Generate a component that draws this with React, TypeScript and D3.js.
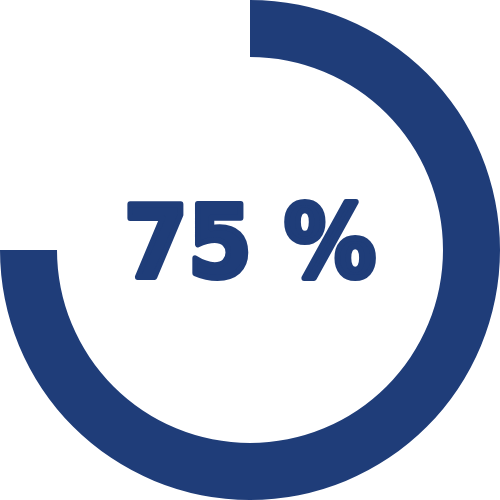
import * as d3 from "d3";
import { useEffect, useRef } from "react";

const values = [75];
const maxValue = 100;
const labels = ["75 %"];

const App = () => {
  const ref = useRef<SVGSVGElement | null>(null);

  useEffect(() => {
    document.body.style.margin = "0";
    const width = 500;
    const height = 500;
    const outerRadius = 250;
    const innerRadius = 193;
    const color = "#1f3d79";

    const scale = d3.scaleLinear().domain([0, maxValue]).range([0, 2 * Math.PI]);

    const svg = d3.select(ref.current);
    svg.selectAll("*").remove();

    const g = svg
      .append("g")
      .attr("transform", `translate(${width / 2}, ${height / 2})`);

    const arc = d3.arc<number>()
      .innerRadius(innerRadius)
      .outerRadius(outerRadius)
      .startAngle(0)
      .endAngle(d => scale(d));

    g.selectAll("path")
      .data(values)
      .enter()
      .append("path")
      .attr("d", d => arc(d) as string)
      .attr("fill", color);

    g.append("text")
      .attr("x", 0)
      .attr("y", 27)
      .attr("text-anchor", "middle")
      .attr("font-family", "DejaVu Sans")
      .attr("font-weight", "bold")
      .attr("font-size", "100px")
      .attr("textLength", 252)
      .attr("lengthAdjust", "spacingAndGlyphs")
      .attr("fill", color)
      .attr("stroke", color)
      .attr("stroke-width", 6)
      .attr("stroke-linejoin", "round")
      .text(labels[0]);
  }, []);

  return (
    <svg
      ref={ref}
      width={500}
      height={500}
      viewBox="0 0 500 500"
      style={{ display: "block" }}
    />
  );
};

export default App;
